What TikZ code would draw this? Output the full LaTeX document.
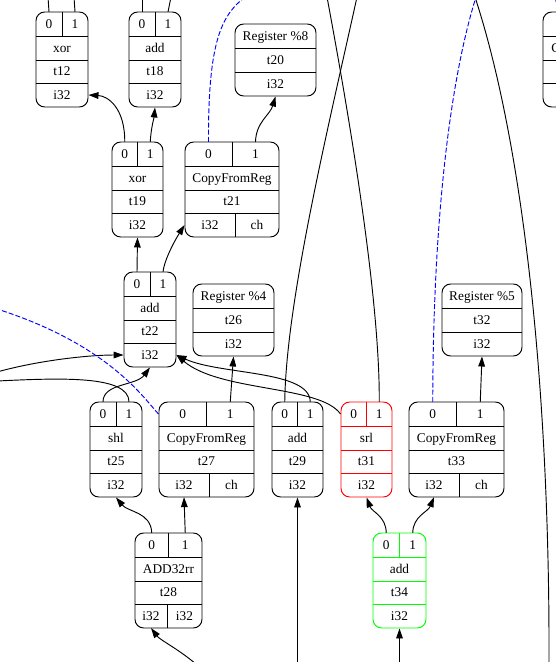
\documentclass[tikz,border=0pt]{standalone}
\usepackage{fontspec}
\setmainfont{Liberation Serif}
\usepackage{xcolor}
\usepackage{tikz}
\usetikzlibrary{arrows.meta, fit}

% record with ports 0|1, opcode, name, i32
\newcommand{\oprec}[6]{%
  \pgfmathsetmacro{\midx}{(#2+#3)/2}
  \pgfmathsetmacro{\wfull}{(#3-#2)*0.75}
  \pgfmathsetmacro{\whalf}{\wfull/2}
  \node[rec, draw=#6, fit={(#2,#4) (#3,#4+95)}] (#1) {};
  \draw[#6] (#2,#4+24) -- (#3,#4+24) (#2,#4+48) -- (#3,#4+48)
    (#2,#4+71) -- (#3,#4+71) (\midx,#4) -- (\midx,#4+24);
  \node[cell, minimum width=\whalf pt] (#1p0) at ({(#2+\midx)/2},{#4+12}) {0};
  \node[cell, minimum width=\whalf pt] (#1p1) at ({(\midx+#3)/2},{#4+12}) {1};
  \node[cell, minimum width=\wfull pt] (#1op) at (\midx,{#4+36}) {#5};
  \node[cell, minimum width=\wfull pt] (#1t) at (\midx,{#4+59.5}) {#1};
  \node[cell, minimum width=\wfull pt] (#1ty) at (\midx,{#4+83}) {i32};
}
% record with two result types
\newcommand{\duorec}[8]{%
  \pgfmathsetmacro{\midx}{(#2+#3)/2}
  \pgfmathsetmacro{\wfull}{(#3-#2)*0.75}
  \pgfmathsetmacro{\whalf}{\wfull/2}
  \pgfmathsetmacro{\wleft}{(#8-#2)*0.75}
  \pgfmathsetmacro{\wright}{(#3-#8)*0.75}
  \node[rec, fit={(#2,#4) (#3,#4+95)}] (#1) {};
  \draw (#2,#4+24) -- (#3,#4+24) (#2,#4+48) -- (#3,#4+48)
    (#2,#4+71) -- (#3,#4+71) (\midx,#4) -- (\midx,#4+24) (#8,#4+71) -- (#8,#4+95);
  \node[cell, minimum width=\whalf pt] (#1p0) at ({(#2+\midx)/2},{#4+12}) {0};
  \node[cell, minimum width=\whalf pt] (#1p1) at ({(\midx+#3)/2},{#4+12}) {1};
  \node[cell, minimum width=\wfull pt] (#1op) at (\midx,{#4+36}) {#5};
  \node[cell, minimum width=\wfull pt] (#1t) at (\midx,{#4+59.5}) {#1};
  \node[cell, minimum width=\wleft pt] (#1ty0) at ({(#2+#8)/2},{#4+83}) {#6};
  \node[cell, minimum width=\wright pt] (#1ty1) at ({(#8+#3)/2},{#4+83}) {#7};
}
% register record
\newcommand{\regrec}[5]{%
  \pgfmathsetmacro{\midx}{(#2+#3)/2}
  \pgfmathsetmacro{\wfull}{(#3-#2)*0.75}
  \node[rec, fit={(#2,#4) (#3,#4+72)}] (#1) {};
  \draw (#2,#4+24) -- (#3,#4+24) (#2,#4+48) -- (#3,#4+48);
  \node[cell, minimum width=\wfull pt] (#1r) at (\midx,{#4+12}) {Register \%#5};
  \node[cell, minimum width=\wfull pt] (#1t) at (\midx,{#4+36}) {#1};
  \node[cell, minimum width=\wfull pt] (#1ty) at (\midx,{#4+60}) {i32};
}

\begin{document}
\begin{tikzpicture}[x=0.75pt, y=-0.75pt, line width=0.7pt,
  rec/.style={draw, rounded corners=6.5pt, inner sep=0pt},
  cell/.style={inner sep=0pt, minimum height=17.5pt, text height=7.5pt, text depth=1.5pt,
    font=\fontsize{10}{12}\selectfont},
  arr/.style={-{Triangle[length=7.5pt, width=5pt]}},
  dsh/.style={blue, dash pattern=on 3.75pt off 1.6pt}]
\useasboundingbox (0,0) rectangle (556,662);
\clip (0,0) rectangle (556,662);

% plain nodes
\foreach \nm/\xl/\xr/\yt/\op/\col in {t12/36/88/12/xor/black, t18/129/181/12/add/black,
    t19/112/163/142/xor/black, t22/124/176/272/add/black, t25/90/142/402/shl/black,
    t29/272/323/402/add/black, t31/341/392/402/srl/red, t34/373/426/533/add/green} {
  \oprec{\nm}{\xl}{\xr}{\yt}{\op}{\col}
}
\duorec{t21}{185}{279}{142}{CopyFromReg}{i32}{ch}{235}
\duorec{t27}{159}{254}{402}{CopyFromReg}{i32}{ch}{209}
\duorec{t33}{409}{504}{402}{CopyFromReg}{i32}{ch}{459}
\duorec{t28}{135}{202}{533}{ADD32rr}{i32}{i32}{167}
\regrec{t20}{235}{316}{24}{8}
\regrec{t26}{193}{274}{284}{4}
\regrec{t32}{442}{522}{284}{5}

% cut off at the right edge
\node[rec, fit={(543,12) (640,107)}] (cpy) {};
\draw (543,36) -- (640,36) (543,60) -- (640,60) (543,83) -- (640,83);
\node[cell, minimum width=24pt] (cpyp0) at (559,24) {0};
\node[cell, anchor=west] (cpyop) at (551,48) {CopyToReg};

% ends outside the picture
\foreach \c/\x/\y in {up1/48/-3, up2/74/-3, up3/142/-3, up4/171/-3, up5/245/-3,
    up6/357/-3, up7/327/-3, up8/476/-3, up9/475/-3, up10/552/-3,
    lf1/-3/309, lf2/-3/372, lf3/-3/381, dn1/197/665, dn2/297.5/665, dn3/399.5/665, dn4/549/665} {
  \coordinate (\c) at (\x,\y);
}

% edges
\draw (t12p0.north) -- (up1);
\draw (t12p1.north) -- (up2);
\draw (t18p0.north) -- (up3);
\draw (t18p1.north) -- (up4);
\draw[arr] (t19p0.north) .. controls (125,108) and (108,96) .. (t12ty.east);
\draw[arr] (t19p1.north) .. controls (151,128) and (154,118) .. (t18.south);
\draw[dsh] (t21p0.north) .. controls (208,40) and (222,15) .. (up5);
\draw[arr] (t21p1.north) .. controls (256,122) and (270,115) .. (t20.south);
\draw[arr] (t22p0.north) -- (t19.south);
\draw[arr] (t22p1.north) .. controls (164,262) and (172,245) .. (t21ty0.west);
\draw[arr] (lf2) .. controls (40,360) and (90,355) .. (t22ty.west);
\draw (t25p1.north) .. controls (129,375) and (60,378) .. (lf3);
\draw[arr] (t25p0.north) .. controls (103,383) and (136,386) .. (t22.south);
\draw[arr] (t29p1.north) .. controls (310,370) and (220,375) .. (t22ty.east);
\draw[arr] (t31p0.west) .. controls (320,385) and (220,392) .. (t22ty.east);
\draw[dsh] (t27p0.west) .. controls (145,400) and (110,345) .. (lf1);
\draw[arr] (t27p1.north) -- (t26.south);
\draw (t29p0.north) .. controls (286,300) and (330,120) .. (up6);
\draw (t31p1.north) .. controls (380,300) and (350,120) .. (up7);
\draw[dsh] (t33p0.north) .. controls (433,220) and (450,80) .. (up8);
\draw[arr] (t33p1.north) -- (t32.south);
\draw (up9) .. controls (525,150) and (550,400) .. (dn4);
\draw[dsh] (cpyp0.north) .. controls (559,4) and (556,0) .. (up10);
\draw[arr] (t28p0.north) .. controls (151,512) and (128,512) .. (t25.south);
\draw[arr] (t28p1.north) -- (t27ty0.south);
\draw[arr] (dn1) .. controls (180,650) and (160,640) .. (t28ty0.south);
\draw[arr] (dn2) -- (t29.south);
\draw[arr] (dn3) -- (t34.south);
\draw[arr] (t34p0.north) .. controls (386,516) and (372,512) .. (t31.south);
\draw[arr] (t34p1.north) .. controls (413,516) and (428,512) .. (t33ty0.south);
\end{tikzpicture}
\end{document}
